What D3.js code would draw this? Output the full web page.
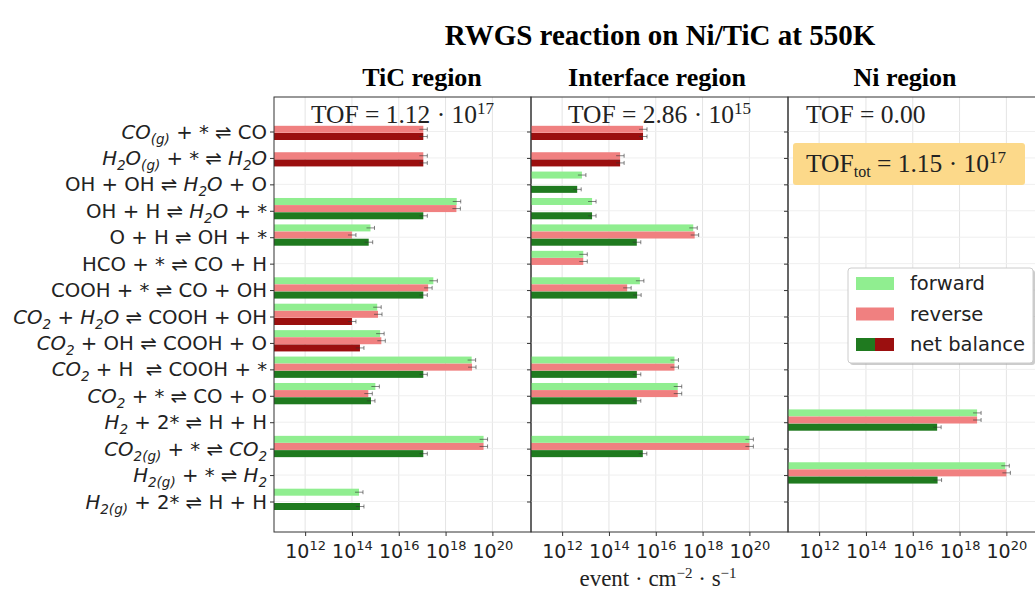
<!DOCTYPE html>
<html>
<head>
<meta charset="utf-8">
<script src="https://cdn.jsdelivr.net/npm/d3@7"></script>
<style>
body { margin: 0; background: #fff; }
svg { display: block; }
text { white-space: pre; }
.serif { font-family: "Liberation Serif", "Times New Roman", serif; }
.sans { font-family: "DejaVu Sans", sans-serif; }
</style>
</head>
<body>
<svg id="chart" width="1035" height="590"></svg>
<script>
// reaction labels, $..$ = math (italic), _{..} = subscript
var categories = [
    '$CO_{(g)}$ + * ⇌ CO',
    '$H_2O_{(g)}$ + * ⇌ $H_2O$',
    'OH + OH ⇌ $H_2O$ + O',
    'OH + H ⇌ $H_2O$ + *',
    'O + H ⇌ OH + *',
    'HCO + * ⇌ CO + H',
    'COOH + * ⇌ CO + OH',
    '$CO_2$ + $H_2O$ ⇌ COOH + OH',
    '$CO_2$ + OH ⇌ COOH + O',
    '$CO_2$ + H  ⇌ COOH + *',
    '$CO_2$ + * ⇌ CO + O',
    '$H_2$ + 2* ⇌ H + H',
    '$CO_{2(g)}$ + * ⇌ $CO_2$',
    '$H_{2(g)}$ + * ⇌ $H_2$',
    '$H_{2(g)}$ + 2* ⇌ H + H'
];

var regionTitles = ['TiC region', 'Interface region', 'Ni region'];
var tofMantissa = ['1.12', '2.86', '0.00'];
var tofExponent = ['17', '15', null];
var tofTotal = ['1.15', '17'];

// event rates (cm^-2 s^-1), null = no event; net < 0 means reverse direction wins
var ticForward = [null, null, null, 3.0e18, 6.2e14, null, 3.0e17, 1.2e15, 1.6e15, 1.3e19, 1.0e15, null, 4.2e19, null, 2.0e14];
var ticReverse = [1.12e17, 1.12e17, null, 2.9e18, 1.0e14, null, 1.8e17, 1.3e15, 1.8e15, 1.35e19, 5.0e14, null, 4.2e19, null, null];
var ticNet = [-1.12e17, -1.12e17, null, 1.12e17, 5.2e14, null, 1.12e17, -1.0e14, -2.2e14, 1.12e17, 6.5e14, null, 1.12e17, null, 2.2e14];

var intForward = [null, null, 7.0e12, 1.9e13, 4.0e17, 8.0e12, 2.1e15, null, null, 6.3e16, 8.7e16, null, 1.0e20, null, null];
var intReverse = [2.86e15, 3.0e14, null, null, 4.6e17, 8.0e12, 6.0e14, null, null, 6.3e16, 8.7e16, null, 1.0e20, null, null];
var intNet = [-2.86e15, -3.0e14, 4.4e12, 1.9e13, 1.55e15, null, 1.6e15, null, null, 1.55e15, 1.55e15, null, 2.8e15, null, null];

var niForward = [null, null, null, null, null, null, null, null, null, null, null, 5.6e18, null, 0.9e20, null];
var niReverse = [null, null, null, null, null, null, null, null, null, null, null, 5.6e18, null, 1.0e20, null];
var niNet = [null, null, null, null, null, null, null, null, null, null, null, 1.1e17, null, 1.15e17, null];

var xTicks = [1e12, 1e14, 1e16, 1e18, 1e20];
var legendLabels = ['forward', 'reverse', 'net balance'];

var colors = {
    forward: '#90ee90',
    reverse: '#f08080',
    netPos: '#1f7a1f',
    netNeg: '#9b0f0f'
};

var panels = [
    { fwd: ticForward, rev: ticReverse, net: ticNet },
    { fwd: intForward, rev: intReverse, net: intNet },
    { fwd: niForward, rev: niReverse, net: niNet }
];

var svg = d3.select('#chart');
var plotTop = 97, plotBottom = 532, panelW = 257;
var panelH = plotBottom - plotTop;
var panelLeft = [274, 531, 788];

var x = d3.scaleLog()
    .domain([Math.pow(10, 10.67), Math.pow(10, 21.65)])
    .range([0, panelW]);

var y = d3.scalePoint()
    .domain(d3.range(categories.length))
    .range([131.5 - plotTop, 501.5 - plotTop]);

var barH = 7;
var barOffset = [-9.3, -2.2, 5.0];

function addSup(sel, base, sup, dy, size) {
    sel.append('tspan').text(base);
    sel.append('tspan').attr('dy', -dy).attr('font-size', size).text(sup);
}

// label parser for the mini markup
function drawLabel(sel, str, subSize, subDy) {
    var pending = 0;
    function put(txt, italic, sub) {
        var t = sel.append('tspan').text(txt);
        if (italic) t.attr('font-style', 'italic');
        var dy = pending + (sub ? subDy : 0);
        if (dy) t.attr('dy', dy);
        pending = sub ? -subDy : 0;
        if (sub) t.attr('font-size', subSize);
    }
    str.split('$').forEach(function (p, k) {
        if (!p) return;
        if (k % 2 === 0) { put(p, false, false); return; }
        var re = /_(\{[^}]*\}|.)/g, last = 0, m;
        while ((m = re.exec(p)) !== null) {
            if (m.index > last) put(p.slice(last, m.index), true, false);
            put(m[1].replace(/[{}]/g, ''), true, true);
            last = re.lastIndex;
        }
        if (last < p.length) put(p.slice(last), true, false);
    });
}

// title
svg.append('text').attr('class', 'serif')
    .attr('x', 660).attr('y', 45)
    .attr('text-anchor', 'middle')
    .attr('font-size', 29).attr('font-weight', 'bold')
    .text('RWGS reaction on Ni/TiC at 550K');

var titleX = [422, 657, 905];

panels.forEach(function (pd, pi) {
    var g = svg.append('g').attr('transform', 'translate(' + panelLeft[pi] + ',' + plotTop + ')');

    // grid
    g.selectAll('.vgrid').data(xTicks).enter().append('line')
        .attr('x1', function (d) { return x(d); })
        .attr('x2', function (d) { return x(d); })
        .attr('y1', 0).attr('y2', panelH)
        .attr('stroke', '#e4e4e4').attr('stroke-width', 1);
    g.selectAll('.hgrid').data(d3.range(categories.length)).enter().append('line')
        .attr('x1', 0).attr('x2', panelW)
        .attr('y1', function (d) { return y(d); })
        .attr('y2', function (d) { return y(d); })
        .attr('stroke', '#efefef').attr('stroke-width', 1);

    // bars
    var series = [
        { vals: pd.fwd, off: barOffset[0], color: function () { return colors.forward; } },
        { vals: pd.rev, off: barOffset[1], color: function () { return colors.reverse; } },
        { vals: pd.net, off: barOffset[2], color: function (v) { return v < 0 ? colors.netNeg : colors.netPos; } }
    ];
    series.forEach(function (s) {
        var items = s.vals.map(function (v, i) { return { v: v, i: i }; })
            .filter(function (d) { return d.v !== null; });
        g.selectAll(null).data(items).enter().append('rect')
            .attr('x', 0)
            .attr('y', function (d) { return y(d.i) + s.off - barH / 2; })
            .attr('width', function (d) { return x(Math.abs(d.v)); })
            .attr('height', barH)
            .attr('fill', function (d) { return s.color(d.v); });
        // error bar ends
        g.selectAll(null).data(items).enter().append('path')
            .attr('d', function (d) {
                var xe = x(Math.abs(d.v)), yc = y(d.i) + s.off;
                return 'M' + (xe - 4) + ',' + yc + 'H' + (xe + 4) +
                    'M' + (xe + 4) + ',' + (yc - 2) + 'V' + (yc + 2);
            })
            .attr('stroke', '#333').attr('stroke-opacity', 0.6)
            .attr('stroke-width', 1).attr('fill', 'none');
    });

    // axes
    var xAxis = g.append('g').attr('transform', 'translate(0,' + panelH + ')')
        .call(d3.axisBottom(x).tickValues(xTicks).tickSize(4).tickFormat(''));
    xAxis.select('.domain').remove();
    xAxis.selectAll('line').attr('stroke', '#333');
    xAxis.selectAll('.tick').append('text')
        .attr('class', 'sans').attr('fill', '#222')
        .attr('y', 26).attr('font-size', 19)
        .attr('text-anchor', 'middle')
        .each(function (d) {
            addSup(d3.select(this), '10', String(Math.round(Math.log10(d))), 8, 13);
        });

    var yAxis = g.append('g')
        .call(d3.axisLeft(y).tickSize(4).tickFormat(''));
    yAxis.select('.domain').remove();
    yAxis.selectAll('line').attr('stroke', '#333');

    // frame
    g.append('rect').attr('x', 0).attr('y', 0)
        .attr('width', panelW).attr('height', panelH)
        .attr('fill', 'none').attr('stroke', '#333').attr('stroke-width', 1);

    // region title
    svg.append('text').attr('class', 'serif')
        .attr('x', titleX[pi]).attr('y', 86)
        .attr('text-anchor', 'middle')
        .attr('font-size', 26).attr('font-weight', 'bold')
        .text(regionTitles[pi]);

    // TOF
    var tof = g.append('text').attr('class', 'serif')
        .attr('font-size', 25.5).attr('fill', '#222')
        .attr('y', 26);
    if (tofExponent[pi]) {
        tof.attr('x', panelW / 2).attr('text-anchor', 'middle');
        addSup(tof, 'TOF = ' + tofMantissa[pi] + ' · 10', tofExponent[pi], 9, 17);
    } else {
        tof.attr('x', 18).text('TOF = ' + tofMantissa[pi]);
    }
});

// total TOF box
var ni = svg.append('g').attr('transform', 'translate(' + panelLeft[2] + ',' + plotTop + ')');
ni.append('rect').attr('x', 5).attr('y', 46).attr('width', 232).attr('height', 42)
    .attr('rx', 3).attr('fill', '#fcd98a');
var tt = ni.append('text').attr('class', 'serif').attr('font-size', 25.5).attr('fill', '#222')
    .attr('x', 18).attr('y', 75);
tt.append('tspan').text('TOF');
tt.append('tspan').attr('font-size', 16).attr('dy', 5).text('tot');
tt.append('tspan').attr('dy', -5).text(' = ' + tofTotal[0] + ' · 10');
tt.append('tspan').attr('font-size', 17).attr('dy', -9).text(tofTotal[1]);

// legend
var lg = svg.append('g').attr('transform', 'translate(848,268)');
lg.append('rect').attr('x', 2).attr('y', 2).attr('width', 185).attr('height', 95)
    .attr('rx', 3).attr('fill', '#999').attr('opacity', 0.5);
lg.append('rect').attr('x', 0).attr('y', 0).attr('width', 185).attr('height', 95)
    .attr('rx', 3).attr('fill', '#fff').attr('stroke', '#ccc');
legendLabels.forEach(function (lab, k) {
    var cy = 15 + k * 30.5;
    var ent = lg.append('g').attr('transform', 'translate(8,' + cy + ')');
    if (k < 2) {
        ent.append('rect').attr('x', 0).attr('y', -6).attr('width', 38).attr('height', 13)
            .attr('fill', k === 0 ? colors.forward : colors.reverse);
    } else {
        ent.append('rect').attr('x', 0).attr('y', -6).attr('width', 19).attr('height', 13)
            .attr('fill', colors.netPos);
        ent.append('rect').attr('x', 19).attr('y', -6).attr('width', 19).attr('height', 13)
            .attr('fill', colors.netNeg);
    }
    ent.append('text').attr('class', 'sans').attr('x', 54).attr('y', 7)
        .attr('font-size', 19.5).attr('fill', '#222').text(lab);
});

// y labels
svg.append('g').selectAll('text').data(categories).enter().append('text')
    .attr('class', 'sans')
    .attr('x', 267)
    .attr('y', function (d, i) { return plotTop + y(i) + 7; })
    .attr('text-anchor', 'end')
    .attr('font-size', 19.7).attr('fill', '#222')
    .each(function (d) { drawLabel(d3.select(this), d, 13.5, 5); });

// x label
var xl = svg.append('text').attr('class', 'serif')
    .attr('x', 658).attr('y', 586).attr('text-anchor', 'middle')
    .attr('font-size', 23).attr('fill', '#222');
xl.append('tspan').text('event · cm');
xl.append('tspan').attr('font-size', 15).attr('dy', -8).text('−2');
xl.append('tspan').attr('dy', 8).text(' · s');
xl.append('tspan').attr('font-size', 15).attr('dy', -8).text('−1');
</script>
</body>
</html>
